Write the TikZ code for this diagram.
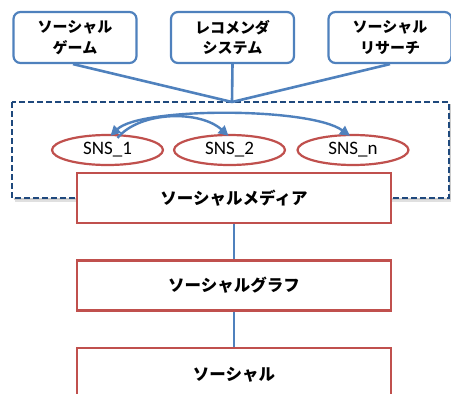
\documentclass[tikz,border=0pt]{standalone}
\usepackage{fontspec}
\newfontfamily\jp{Noto Sans CJK JP}
\newfontfamily\lat{Carlito}
\usetikzlibrary{arrows.meta,shapes.geometric}
\definecolor{offblue}{HTML}{4F81BD}
\definecolor{offred}{HTML}{C0504D}
\definecolor{navy}{HTML}{1F497D}
\tikzset{
  topbox/.style={draw=offblue, line width=2.2pt, rounded corners=7pt, fill=white,
    minimum width=123pt, minimum height=51pt, inner sep=0pt, align=center,
    font=\jp\bfseries\fontsize{15}{20.5}\selectfont},
  layerbox/.style={draw=offred, line width=2.2pt, fill=white,
    minimum width=314pt, minimum height=50pt, inner sep=0pt,
    font=\jp\bfseries\fontsize{16.5}{20}\selectfont},
  snsnode/.style={ellipse, draw=offred, line width=2.2pt, fill=white,
    minimum width=111pt, minimum height=30pt, inner sep=0pt,
    font=\lat\fontsize{19}{20}\selectfont},
  link/.style={draw=offblue, line width=2.6pt},
  flow/.style={draw=offblue, line width=2.4pt, -{Triangle[length=10pt,width=10pt]}},
  flowboth/.style={draw=offblue, line width=2.4pt, {Triangle[length=10pt,width=10pt]}-{Triangle[length=10pt,width=10pt]}},
  group/.style={draw=navy, line width=2.2pt, dash pattern=on 6pt off 3pt}
}
\begin{document}
\begin{tikzpicture}[x=1pt,y=-1pt]
  \useasboundingbox (0,0) rectangle (451,394);

  % dashed group frame with a soft shadow
  \fill[black!12] (15,105) rectangle (452,202);
  \fill[black!20] (14,104) rectangle (451,200);
  \fill[white] (12,102) rectangle (449,198);
  \draw[group] (12,102) rectangle (449,198);
  \coordinate (hub) at (232,102);

  % applications on top
  \node[topbox] (game) at (75,37.5) {ソーシャル\\ゲーム};
  \node[topbox] (reco) at (232.5,37.5) {レコメンダ\\システム};
  \node[minimum width=120pt, topbox] (res) at (390,37.5) {ソーシャル\\リサーチ};

  \draw[link] ([xshift=-2pt]game.south) -- (hub);
  \draw[link] (reco.south) -- (hub);
  \draw[link] (res.south) -- (hub);

  % SNS services
  \node[snsnode] (s1) at (107.5,150) {SNS\_1};
  \node[snsnode] (s2) at (229.5,150) {SNS\_2};
  \node[snsnode] (sn) at (353,150) {SNS\_n};

  \draw[flowboth] ([xshift=3pt,yshift=-2pt]s1.north) .. controls (140,107) and (310,107) .. ([xshift=-3pt,yshift=-2pt]sn.north);
  \draw[flow] ([xshift=10pt,yshift=-4pt]s1.north) .. controls (140,111) and (200,110) .. ([xshift=-1pt,yshift=-2pt]s2.north);

  % layers
  \node[layerbox] (media) at (234,198) {ソーシャルメディア};
  \node[layerbox] (graph) at (234,285.5) {ソーシャルグラフ};
  \node[layerbox, minimum height=54pt] (social) at (234,375) {ソーシャル};

  \draw[link, line width=2.4pt] (media) -- (graph);
  \draw[link, line width=2.4pt] (graph) -- (social);
\end{tikzpicture}
\end{document}
